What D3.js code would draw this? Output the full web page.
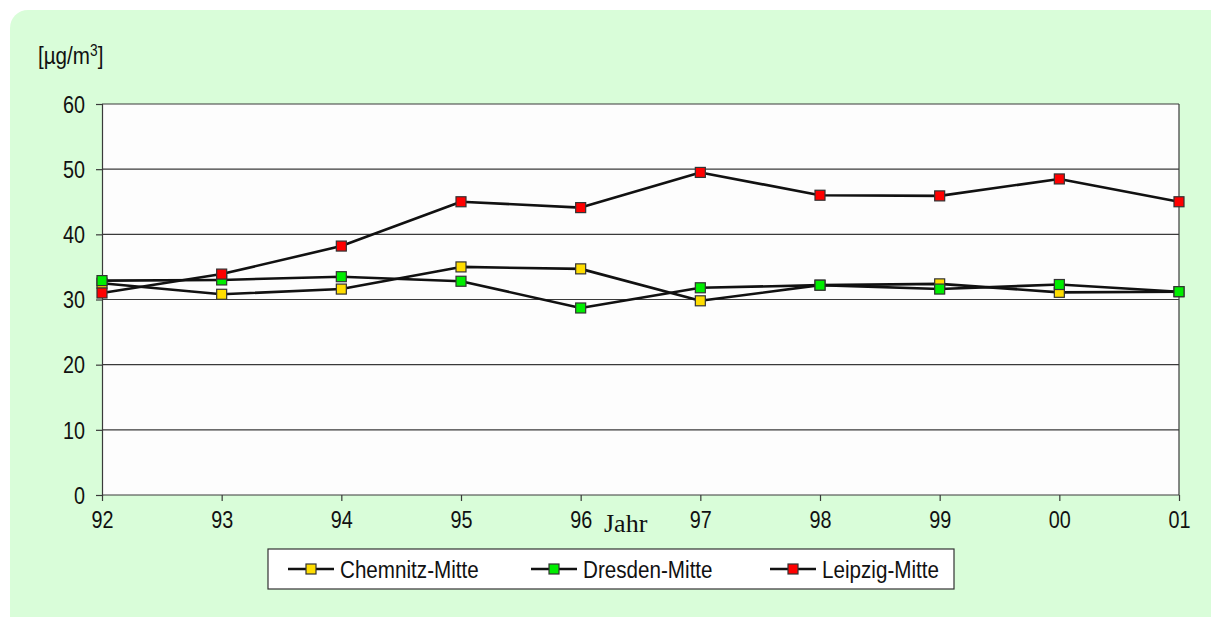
<!DOCTYPE html>
<html>
<head>
<meta charset="utf-8">
<script src="https://cdn.jsdelivr.net/npm/d3@7"></script>
<style>
  html, body { margin: 0; padding: 0; background: #ffffff; }
  svg { display: block; }
</style>
</head>
<body>
<svg id="chart" width="1211" height="617"></svg>
<script>
// Jahresmittelwerte (µg/m³) an drei sächsischen Messstationen
const years = ["92", "93", "94", "95", "96", "97", "98", "99", "00", "01"];
const chemnitz = [32.5, 30.8, 31.6, 35.0, 34.7, 29.8, 32.2, 32.4, 31.1, 31.2];
const dresden  = [32.9, 33.0, 33.5, 32.8, 28.7, 31.8, 32.2, 31.6, 32.3, 31.2];
const leipzig  = [31.0, 33.9, 38.2, 45.0, 44.1, 49.5, 46.0, 45.9, 48.5, 45.0];
const seriesNames = ["Chemnitz-Mitte", "Dresden-Mitte", "Leipzig-Mitte"];
const seriesColors = ["#ffdd00", "#00ee00", "#ff0000"];
const yTicks = [0, 10, 20, 30, 40, 50, 60];

const series = [chemnitz, dresden, leipzig].map((vals, i) => ({
  name: seriesNames[i], color: seriesColors[i],
  points: vals.map((v, j) => ({ year: years[j], value: v }))
}));

const svg = d3.select("#chart");
const sans = "'Liberation Sans', Arial, sans-serif";
const squeeze = 0.86; // horizontal compression for a narrow sans look

// background panel
svg.append("rect")
  .attr("x", 10).attr("y", 10).attr("width", 1221).attr("height", 627)
  .attr("rx", 18).attr("ry", 18)
  .attr("fill", "#d9fdd9");

const plot = { left: 102, right: 1179, top: 104, bottom: 495 };

const x = d3.scalePoint().domain(years).range([plot.left, plot.right]);
const y = d3.scaleLinear().domain([0, 60]).range([plot.bottom, plot.top]);

// plot area
svg.append("rect")
  .attr("x", plot.left).attr("y", plot.top)
  .attr("width", plot.right - plot.left).attr("height", plot.bottom - plot.top)
  .attr("fill", "#fdfdfd");

// horizontal gridlines
svg.append("g")
  .selectAll("line")
  .data(yTicks.filter(t => t > 0))
  .join("line")
  .attr("x1", plot.left).attr("x2", plot.right)
  .attr("y1", d => y(d)).attr("y2", d => y(d))
  .attr("stroke", "#3a3a3a").attr("stroke-width", 1.2);

// right frame line
svg.append("line")
  .attr("x1", plot.right).attr("x2", plot.right).attr("y1", plot.top).attr("y2", plot.bottom)
  .attr("stroke", "#3a3a3a").attr("stroke-width", 1.2);

// y axis
const yAxis = svg.append("g")
  .attr("transform", `translate(${plot.left},0)`)
  .call(d3.axisLeft(y).tickValues(yTicks).tickSize(6).tickPadding(0).tickFormat(d3.format("d")));
yAxis.select(".domain").attr("stroke", "#3a3a3a").attr("stroke-width", 1.2);
yAxis.selectAll(".tick line").attr("stroke", "#3a3a3a").attr("stroke-width", 1.2);
yAxis.selectAll(".tick text")
  .attr("x", null)
  .attr("transform", `translate(-17,0) scale(${squeeze},1)`)
  .attr("dy", "0.36em")
  .attr("font-family", sans).attr("font-size", 23).attr("fill", "#111");

// x axis
const xAxis = svg.append("g")
  .attr("transform", `translate(0,${plot.bottom})`)
  .call(d3.axisBottom(x).tickSize(6).tickPadding(0).tickSizeOuter(0));
xAxis.select(".domain").attr("stroke", "#3a3a3a").attr("stroke-width", 1.2)
  .attr("d", `M${plot.left},0H${plot.right}`);
xAxis.selectAll(".tick line").attr("stroke", "#3a3a3a").attr("stroke-width", 1.2);
xAxis.selectAll(".tick text")
  .attr("y", null).attr("dy", null)
  .attr("transform", `translate(0,33) scale(${squeeze},1)`)
  .attr("font-family", sans).attr("font-size", 23).attr("fill", "#111");

// axis titles
svg.append("text")
  .attr("transform", `translate(38,64) scale(${squeeze},1)`)
  .attr("font-family", sans).attr("font-size", 24).attr("fill", "#111")
  .html("[µg/m<tspan dy='-8' font-size='16'>3</tspan><tspan dy='8'>]</tspan>");

svg.append("text")
  .attr("x", 604).attr("y", 532)
  .attr("font-family", "'Liberation Serif', 'DejaVu Serif', serif")
  .attr("font-size", 26).attr("fill", "#111")
  .text("Jahr");

// series lines and markers
const line = d3.line().x(d => x(d.year)).y(d => y(d.value));
const ms = 10;

series.forEach(s => {
  const g = svg.append("g");
  g.append("path")
    .datum(s.points)
    .attr("d", line)
    .attr("fill", "none")
    .attr("stroke", "#111")
    .attr("stroke-width", 2.6)
    .attr("stroke-linejoin", "round");
  g.selectAll("rect")
    .data(s.points)
    .join("rect")
    .attr("x", d => x(d.year) - ms / 2)
    .attr("y", d => y(d.value) - ms / 2)
    .attr("width", ms).attr("height", ms)
    .attr("fill", s.color)
    .attr("stroke", "#333")
    .attr("stroke-width", 1.2);
});

// legend
const legend = svg.append("g");
legend.append("rect")
  .attr("x", 268).attr("y", 549).attr("width", 686).attr("height", 40)
  .attr("fill", "#ffffff").attr("stroke", "#333").attr("stroke-width", 1.2);

const legendX = [288, 531, 770];
series.forEach((s, i) => {
  const lx = legendX[i], ly = 569;
  legend.append("line")
    .attr("x1", lx).attr("x2", lx + 46).attr("y1", ly).attr("y2", ly)
    .attr("stroke", "#111").attr("stroke-width", 2.6);
  legend.append("rect")
    .attr("x", lx + 23 - 5).attr("y", ly - 5).attr("width", 10).attr("height", 10)
    .attr("fill", s.color).attr("stroke", "#333").attr("stroke-width", 1.2);
  legend.append("text")
    .attr("transform", `translate(${lx + 52},${ly + 9}) scale(${squeeze},1)`)
    .attr("font-family", sans).attr("font-size", 24).attr("fill", "#111")
    .text(s.name);
});
</script>
</body>
</html>
